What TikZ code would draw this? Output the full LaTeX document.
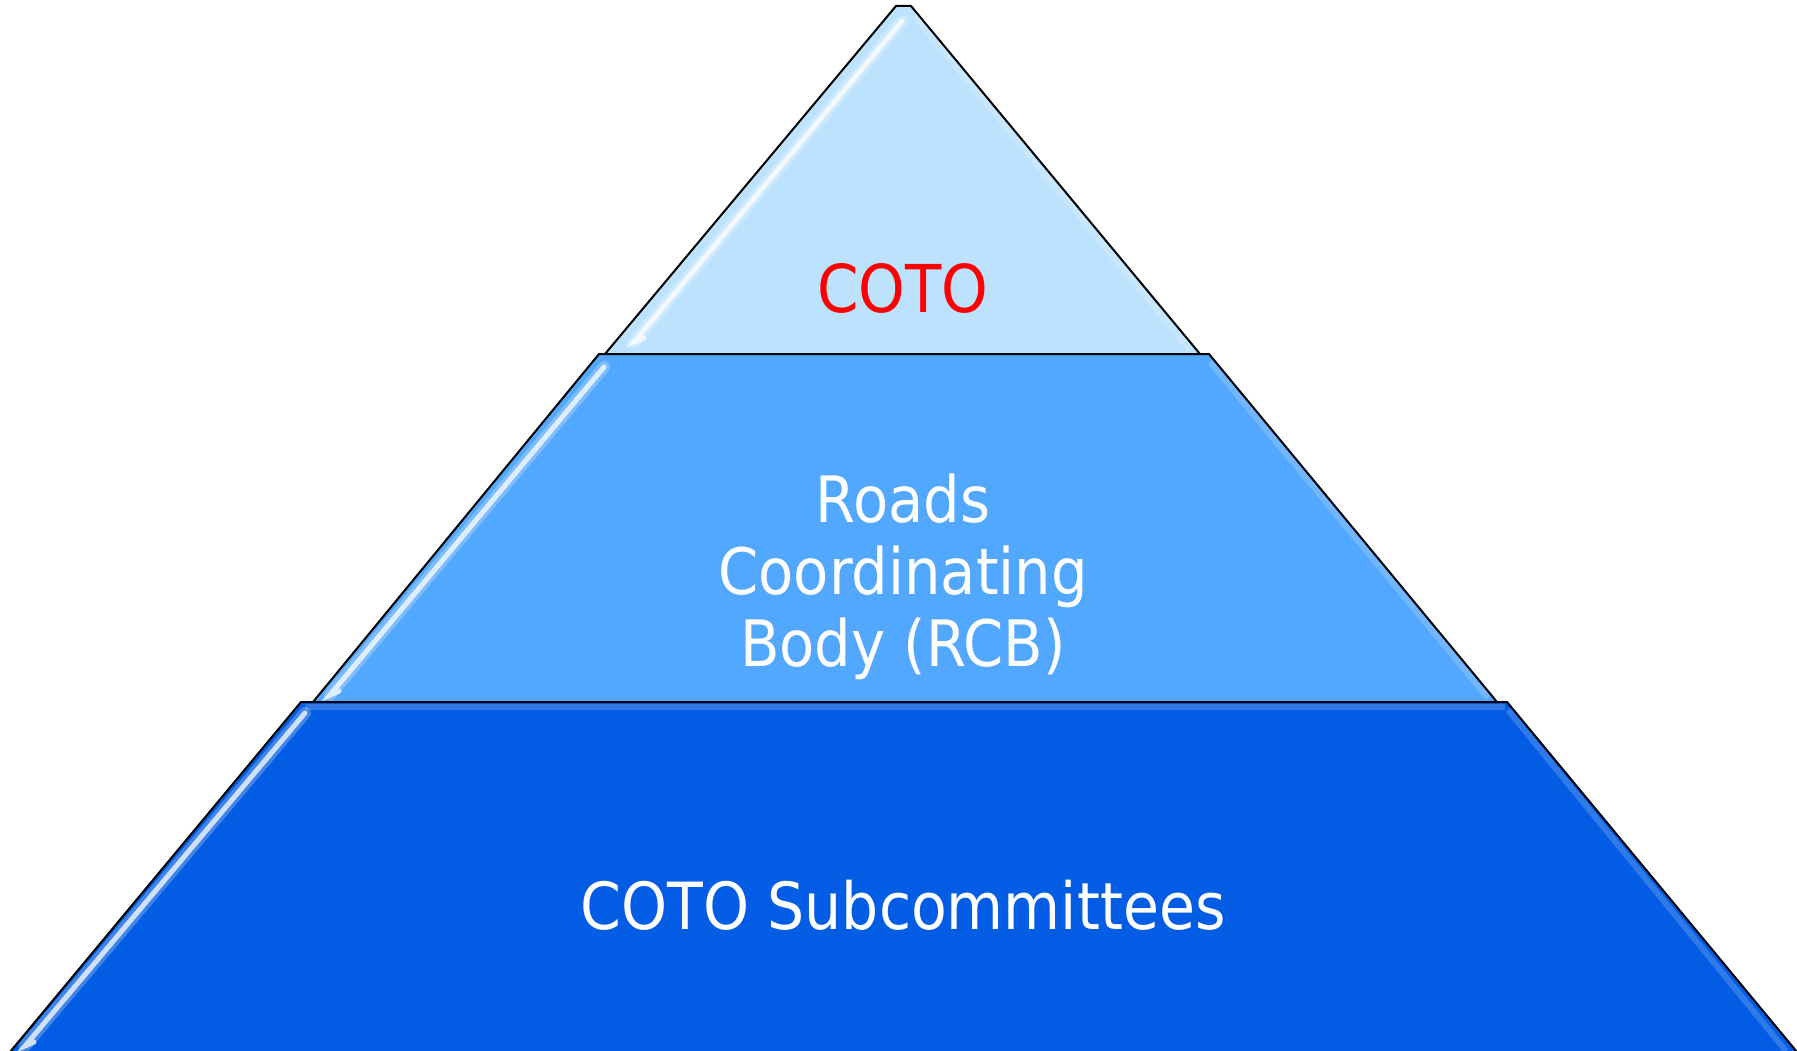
\documentclass[tikz,border=0pt]{standalone}
\usepackage{fontspec}
\setmainfont{DejaVu Sans}[FakeStretch=0.9]
\usetikzlibrary{calc}
\definecolor{topblue}{HTML}{BDE2FE}
\definecolor{midblue}{HTML}{52A7FE}
\definecolor{lowblue}{HTML}{025DE4}
\definecolor{cotored}{HTML}{FF0000}
\tikzset{
  tier/.style={draw=black, line width=2pt, line join=miter},
  gloss/.style={white, line width=5pt, line cap=round, opacity=0.75},
  halo/.style={white, line width=12pt, line cap=round, opacity=0.25},
  glow/.style={white, line width=6pt, opacity=0.18},
  label/.style={text=white, align=center}
}
\begin{document}
\begin{tikzpicture}[x=1pt, y=-1pt]
			%%%%% START %%%%%
			\useasboundingbox (0, 0) rectangle (1797, 1051);
			
			% top tier
			\draw[tier, fill=topblue] (896, 6) -- (911, 6) -- (1200, 354) -- (605, 354) -- cycle;
			\draw[glow] (914, 16) -- (1190, 350);
			\draw[halo] (902, 21) -- (634, 342);
			\draw[gloss] (902, 21) -- (634, 342) -- (644, 338);
			
			% middle tier
			\draw[tier, fill=midblue] (599, 354) -- (1209, 354) -- (1497, 702) -- (313, 702) -- cycle;
			\draw[glow] (1210, 362) -- (1488, 698);
			\draw[halo] (604, 367) -- (330, 695);
			\draw[gloss] (604, 367) -- (330, 695) -- (339, 691);
			
			% bottom tier
			\draw[tier, fill=lowblue] (301, 702) -- (1507, 702) -- (1797, 1052) -- (10, 1052) -- cycle;
			\draw[glow] (1508, 710) -- (1786, 1051);
			\draw[glow] (305, 707) -- (1505, 707);
			\draw[halo] (305, 713) -- (25, 1046);
			\draw[gloss] (305, 713) -- (25, 1046) -- (34, 1042);
			
			\node[text=cotored, font=\fontsize{66}{72}\selectfont, anchor=base] (coto) at (903, 312) {COTO};
			\node[label, font=\fontsize{64}{72}\selectfont] (rcb) at (903, 577) {Roads\\Coordinating\\Body (RCB)};
			\node[label, font=\fontsize{65}{72}\selectfont, anchor=base] (subs) at (903, 929) {COTO Subcommittees};
			%%%%% END %%%%%
\end{tikzpicture}
\end{document}
